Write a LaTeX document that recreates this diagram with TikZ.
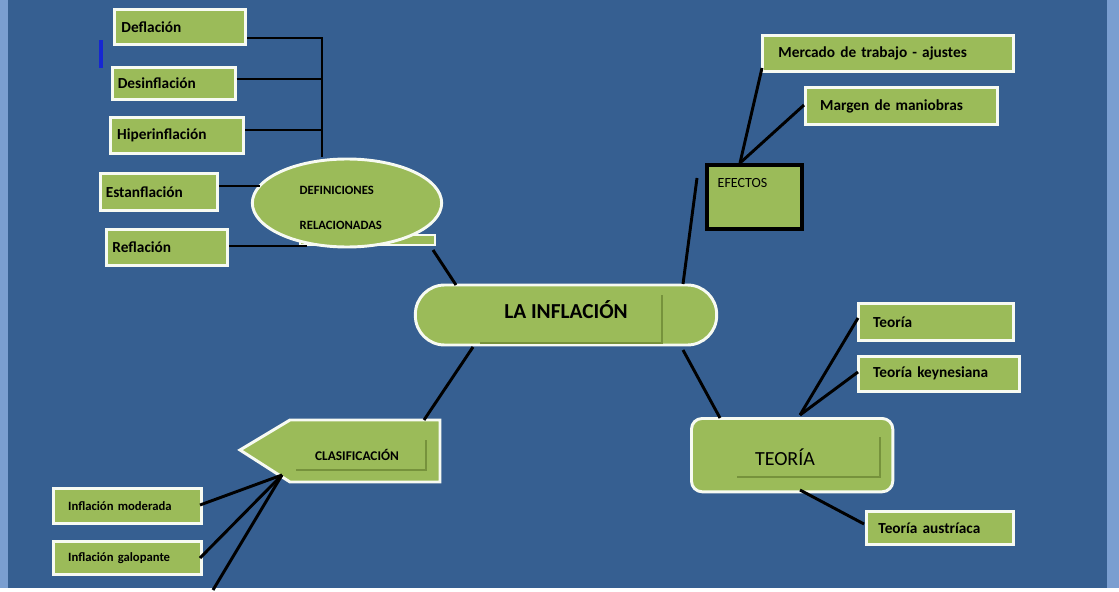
\documentclass[tikz,border=0pt]{standalone}
\usepackage{fontspec}
\setmainfont{Carlito}
\usetikzlibrary{shapes.geometric}
\definecolor{bg}{HTML}{365F91}
\definecolor{edge}{HTML}{7A9ED0}
\definecolor{gr}{HTML}{9BBB59}
\definecolor{grd}{HTML}{76923C}
\tikzset{
 bx/.style={draw=white!92!gr,line width=2.2pt,fill=gr,inner sep=0pt,font=\bfseries\fontsize{11.5}{13}\selectfont,text=black},
 ln/.style={line width=2.2pt,black},
}
\begin{document}
\begin{tikzpicture}[x=0.75pt,y=-0.75pt]
\fill[bg] (0,0) rectangle (1119,588);
\fill[edge] (0,0) rectangle (8,588);
\fill[edge] (1107,0) rectangle (1119,588);
\fill[blue!60!bg] (99,40) rectangle (103,68);
% boxes
\node[bx,minimum width=98.5pt,minimum height=26pt,anchor=north west,text width=88pt,align=left] (def) at (113,8) {Deflación};
\node[bx,minimum width=92pt,minimum height=24pt,anchor=north west,text width=84pt,align=left] (des) at (111,66) {Desinflación};
\node[bx,minimum width=100pt,minimum height=27pt,anchor=north west,text width=90pt,align=left] (hip) at (109,116) {Hiperinflación};
\node[bx,minimum width=88pt,minimum height=28pt,anchor=north west,text width=80pt,align=left] (est) at (99,172) {Estanflación};
\node[bx,minimum width=91pt,minimum height=27pt,anchor=north west,text width=82pt,align=left] (ref) at (105,228) {Reflación};
% ellipse
\fill[gr,draw=white!92!gr,line width=2pt] (300,235) rectangle (435,245);
\node[ellipse,draw=white!92!gr,line width=2.2pt,fill=gr,minimum width=142pt,minimum height=66pt] (ell) at (347,203) {};
\node[font=\bfseries\fontsize{9.5}{11}\selectfont,anchor=west] at (295,190) {DEFINICIONES};
\node[font=\bfseries\fontsize{9.5}{11}\selectfont,anchor=west] at (295,225) {RELACIONADAS};
\coordinate (j) at (322,157);
\draw[ln] (def.east|-0,38) -- (322,38) -- (j);
\draw[ln] (des.east|-0,79) -- (322,79);
\draw[ln] (hip.east|-0,130) -- (322,130);
\draw[ln] (est.east|-0,186) -- (260,186);
\draw[ln] (ref.east|-0,246) -- (307,246);
% main
\node[draw=white!92!gr,line width=2.2pt,fill=gr,rounded corners=22pt,minimum width=226pt,minimum height=45pt] (main) at (566,315) {};
\node[font=\bfseries\fontsize{16}{18}\selectfont] at (566,310) {LA INFLACIÓN};
\draw[grd,line width=1pt] (480,343) -- (662,343) -- (662,295);
\draw[ln] (433,250) -- (456,285);
% efectos
\node[draw=black,line width=3pt,fill=gr,minimum width=71pt,minimum height=48pt,anchor=north west] (efe) at (705,163) {};
\node[font=\fontsize{10.5}{12}\selectfont,anchor=west] at (713,183) {EFECTOS};
\draw[ln] (683,284) -- (697,178);
\node[bx,minimum width=188pt,minimum height=27pt,anchor=north west,text width=176pt,align=left] (mer) at (761,34) {\hspace*{6pt}Mercado de trabajo - ajustes};
\node[bx,minimum width=144pt,minimum height=28pt,anchor=north west,text width=134pt,align=left] (mar) at (804,86) {\hspace*{6pt}Margen de maniobras};
\draw[ln] (740,163) -- (762,68);
\draw[ln] (740,163) -- (804,105);
% teoria
\node[draw=white!92!gr,line width=2.2pt,fill=gr,rounded corners=8pt,minimum width=151pt,minimum height=55pt,anchor=north west] (teo) at (690,417) {};
\node[font=\fontsize{15}{17}\selectfont] at (785,457) {TEORÍA};
\draw[grd,line width=1pt] (737,477) -- (880,477) -- (880,437);
\draw[ln] (683,350) -- (720,418);
\node[bx,minimum width=116pt,minimum height=28pt,anchor=north west,text width=106pt,align=left] (t1) at (857,302) {\hspace*{6pt}Teoría};
\node[bx,minimum width=121pt,minimum height=26pt,anchor=north west,text width=111pt,align=left] (t2) at (857,355) {\hspace*{6pt}Teoría keynesiana};
\node[bx,minimum width=110pt,minimum height=25pt,anchor=north west,text width=100pt,align=left] (t3) at (865,510) {\hspace*{4pt}Teoría austríaca};
\draw[ln] (800,415) -- (858,318);
\draw[ln] (800,415) -- (858,372);
\draw[ln] (800,490) -- (864,524);
% clasificacion
\draw[draw=white!92!gr,line width=2.2pt,fill=gr] (240,450) -- (290,420) -- (440,420) -- (440,482) -- (290,482) -- cycle;
\node[font=\bfseries\fontsize{10}{12}\selectfont] (cla) at (357,455) {CLASIFICACIÓN};
\draw[grd,line width=1pt] (296,470) -- (426,470) -- (426,440);
\draw[ln] (473,347) -- (424,420);
\coordinate (cp) at (282,475);
\node[bx,font=\bfseries\fontsize{9.5}{11}\selectfont,minimum width=111pt,minimum height=26pt,anchor=north west,text width=101pt,align=left] (im) at (52,487) {\hspace*{6pt}Inflación moderada};
\node[bx,font=\bfseries\fontsize{9.5}{11}\selectfont,minimum width=111pt,minimum height=25pt,anchor=north west,text width=101pt,align=left] (ig) at (52,540) {\hspace*{6pt}Inflación galopante};
\draw[ln] (cp) -- (200,505);
\draw[ln] (cp) -- (200,558);
\draw[ln] (cp) -- (213,590);
\end{tikzpicture}
\end{document}
